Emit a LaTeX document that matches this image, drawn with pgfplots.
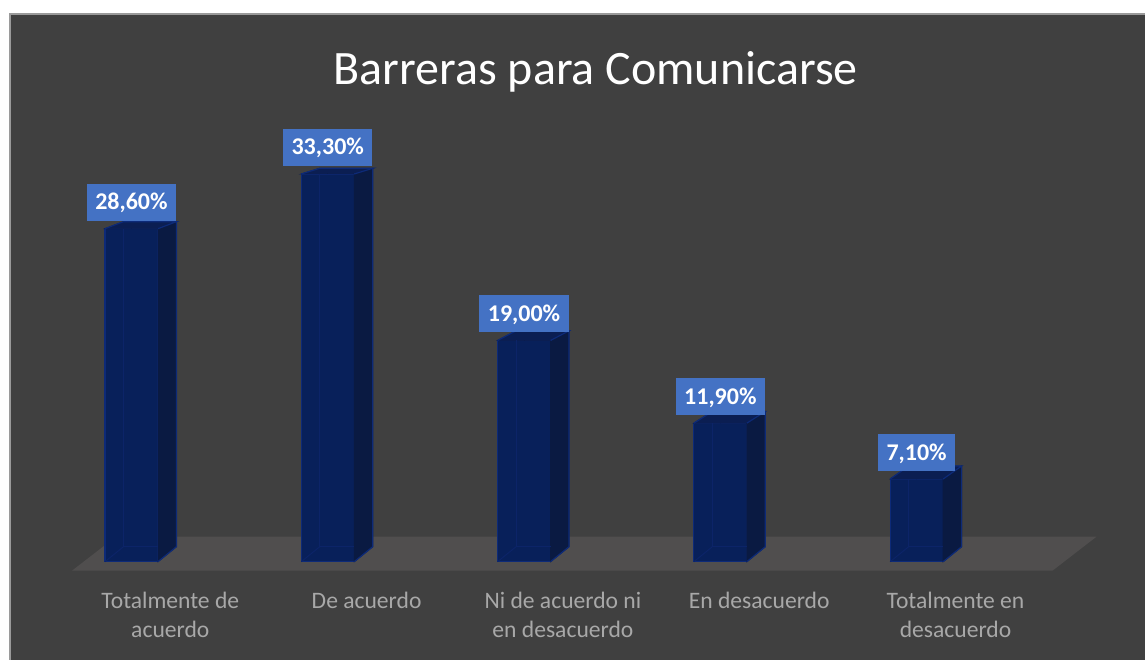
\documentclass[border=0pt]{standalone}
\usepackage{pgfplots}
\pgfplotsset{compat=1.18}
\usepackage{pgfplotstable}
\usepackage{fontspec}
\setmainfont{Carlito}
\definecolor{bg}{HTML}{404040}
\definecolor{floorcol}{HTML}{504E4E}
\definecolor{frontcol}{HTML}{08205A}
\definecolor{sidecol}{HTML}{0A1A42}
\definecolor{topcol}{HTML}{0B1E52}
\definecolor{edgecol}{HTML}{0D2A78}
\definecolor{innercol}{HTML}{0C2468}
\definecolor{labelblue}{HTML}{4472C4}
\definecolor{cattext}{HTML}{A8A8A8}
\definecolor{bordercol}{HTML}{9A9A9A}

\pgfplotstableread{
x y
0 28.6
1 33.3
2 19.0
3 11.9
4 7.1
}\datatable

\begin{document}
\begin{tikzpicture}
\fill[white] (0,0) rectangle (573pt,330pt);
\fill[bg] (5pt,0) rectangle (573pt,323pt);
\draw[bordercol, line width=0.6pt] (5pt,0) -- (5pt,323pt) -- (573pt,323pt);
\begin{axis}[
  at={(0pt,0pt)}, anchor=south west,
  x=98.2pt, y=5.825pt,
  xmin=-0.6696, xmax=5.1655, ymin=-8.412, ymax=48.24,
  axis line style={draw=none},
  ytick=\empty,
  xtick={0.198,1.198,2.198,3.198,4.198},
  xticklabels={{Totalmente de\\acuerdo},{De acuerdo},{Ni de acuerdo ni\\en desacuerdo},{En desacuerdo},{Totalmente en\\desacuerdo}},
  major tick length=0pt,
  tick style={draw=none},
  xticklabel style={align=center, anchor=north, yshift=37.5pt, text=cattext, font=\fontsize{11.8}{14.5}\selectfont},
  title={Barreras para Comunicarse},
  title style={at={(0.5201,0.853)}, anchor=base, text=white, font=\fontsize{24}{28}\selectfont},
  clip=false,
]
% floor
\addplot[fill=floorcol, draw=none] coordinates {(-0.303,-0.7725) (-0.079,2.146) (4.916,2.146) (4.692,-0.7725)} -- cycle;
% side and top faces
\addplot[scatter, only marks, mark=*, mark size=0pt,
  visualization depends on={rawy \as \h},
  scatter/@pre marker code/.code={%
    \pgfmathsetmacro{\hh}{\h*5.825}%
    \pgfmathsetmacro{\mh}{-\hh}%
    \pgfmathsetmacro{\dyt}{7.5-0.024*\hh}%
    \pgfmathsetmacro{\yb}{7.5-\hh}%
    \fill[topcol] (-13.25pt,0pt) -- (-4pt,\dyt pt) -- (22.5pt,\dyt pt) -- (13.25pt,0pt) -- cycle;
    \fill[sidecol] (13.25pt,0pt) -- (22.5pt,\dyt pt) -- (22.5pt,\yb pt) -- (13.25pt,\mh pt) -- cycle;
    \draw[edgecol, line width=0.6pt] (-13.25pt,0pt) -- (-4pt,\dyt pt) -- (22.5pt,\dyt pt) -- (13.25pt,0pt);
    \draw[edgecol, line width=0.6pt] (22.5pt,\dyt pt) -- (22.5pt,\yb pt) -- (13.25pt,\mh pt);
  },
  scatter/@post marker code/.code={}
] table[x=x,y=y] {\datatable};
% front faces with labels
\addplot[ybar, bar width=26.5pt, fill=frontcol, draw=edgecol, line width=0.6pt,
  nodes near coords={\pgfmathprintnumber[fixed,fixed zerofill,precision=2,use comma,assume math mode=true]{\pgfplotspointmeta}\%},
  every node near coord/.append style={anchor=south, yshift=3.75pt, fill=labelblue, text=white,
    font=\fontsize{12}{14}\selectfont\bfseries, inner xsep=4.25pt, inner ysep=0pt,
    minimum height=18.5pt, text height=7.6pt, text depth=0pt}
] table[x=x,y=y] {\datatable};
% inner (back) edges seen through the front
\addplot[scatter, only marks, mark=*, mark size=0pt,
  visualization depends on={rawy \as \h},
  scatter/@pre marker code/.code={%
    \pgfmathsetmacro{\hh}{\h*5.825}%
    \pgfmathsetmacro{\mh}{-\hh}%
    \pgfmathsetmacro{\yb}{7.5-\hh}%
    \draw[innercol, line width=0.5pt] (-4pt,0pt) -- (-4pt,\yb pt) -- (13.25pt,\yb pt);
    \draw[innercol, line width=0.5pt] (-13.25pt,\mh pt) -- (-4pt,\yb pt);
  },
  scatter/@post marker code/.code={}
] table[x=x,y=y] {\datatable};
\end{axis}
\end{tikzpicture}
\end{document}
